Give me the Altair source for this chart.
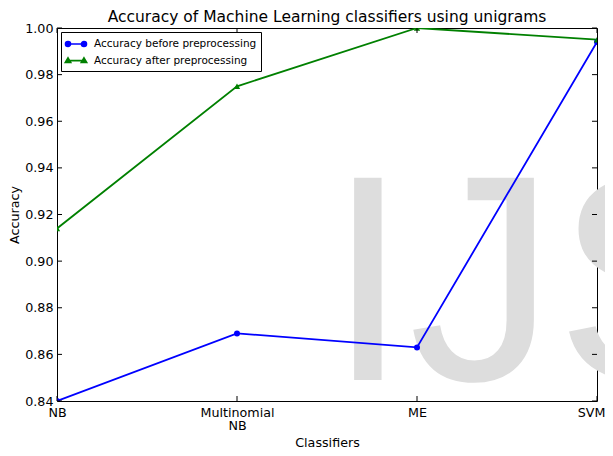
import altair as alt
import pandas as pd

classifiers = ["NB", "Multinomial NB", "ME", "SVM"]
acc_before = [0.840, 0.869, 0.863, 0.994]
acc_after = [0.914, 0.975, 1.000, 0.995]
series_names = ["Accuracy before preprocessing", "Accuracy after preprocessing"]
series_colors = ["#0000FF", "#008000"]
y_ticks = [0.84, 0.86, 0.88, 0.90, 0.92, 0.94, 0.96, 0.98, 1.00]
watermark = ["IJS"]

W, H = 540, 373
FONT = "DejaVu Sans"

rows = []
for c, b, a in zip(classifiers, acc_before, acc_after):
    rows.append({"classifier": c, "series": series_names[0], "acc": b})
    rows.append({"classifier": c, "series": series_names[1], "acc": a})
df = pd.DataFrame(rows)
df_b = df[df.series == series_names[0]]
df_a = df[df.series == series_names[1]]

xscale = alt.Scale(type="point", domain=classifiers, padding=0)
yscale = alt.Scale(domain=[0.84, 1.0], nice=False, zero=False)

X = alt.X("classifier:N", scale=xscale, sort=classifiers,
          axis=alt.Axis(title="Classifiers", labelAngle=0, tickSize=0, domain=False,
                        labelPadding=5, labelLineHeight=13.4, titlePadding=4,
                        labelExpr="split(datum.value, ' ')",
                        labelOffset={"condition": {"test": "datum.value == 'SVM'", "value": -6}, "value": 0}))
Y = alt.Y("acc:Q", scale=yscale,
          axis=alt.Axis(title="Accuracy", values=y_ticks, format=".2f", tickSize=0,
                        domain=False, grid=False, labelPadding=4, titlePadding=3))

wm = alt.Chart(pd.DataFrame({"t": watermark})).mark_text(
    font="Liberation Sans", fontSize=294, color="#dddddd", align="left", baseline="alphabetic"
).encode(text="t:N", x=alt.value(270), y=alt.value(352))

def line(d, col):
    return alt.Chart(d).mark_line(color=col, strokeWidth=1.8, clip=True).encode(x=X, y=Y)

pts_b = alt.Chart(df_b).mark_point(shape="circle", filled=True, color=series_colors[0],
                                   size=36, opacity=1, clip=True).encode(x=X, y=Y)
pts_a = alt.Chart(df_a).mark_point(shape="triangle-up", filled=True, color=series_colors[1],
                                   size=40, opacity=1, clip=True).encode(x=X, y=Y)

# legend symbols: line with two markers, 20px wide drawn on a 14px symbol box
circ_path = ("M-1.43,0L1.43,0"
             "M-1.5,0A0.36,0.36,0,1,0,-0.78,0A0.36,0.36,0,1,0,-1.5,0Z"
             "M0.78,0A0.36,0.36,0,1,0,1.5,0A0.36,0.36,0,1,0,0.78,0Z")
tri_path = ("M-1.43,0L1.43,0"
            "M-1.14,-0.4L-0.75,0.28L-1.53,0.28Z"
            "M1.14,-0.4L1.53,0.28L0.75,0.28Z")

leg = alt.Legend(title=None, orient="top-left", offset=4, padding=4,
                 fillColor="white", strokeColor="black", cornerRadius=0,
                 labelFont=FONT, labelFontSize=10.5, labelColor="black", labelLimit=400,
                 symbolSize=196, symbolStrokeWidth=1.6, symbolOpacity=1, symbolOffset=3,
                 rowPadding=2.6, labelOffset=10)
legend_layer = alt.Chart(df).mark_point(filled=True, clip=True, opacity=1).encode(
    x=alt.value(-200), y=alt.value(-200),
    color=alt.Color("series:N", scale=alt.Scale(domain=series_names, range=series_colors), legend=leg, sort=series_names),
    stroke=alt.Stroke("series:N", scale=alt.Scale(domain=series_names, range=series_colors), legend=leg, sort=series_names),
    shape=alt.Shape("series:N", scale=alt.Scale(domain=series_names, range=[circ_path, tri_path]), legend=leg, sort=series_names),
)

tickdf = pd.DataFrame({"acc": y_ticks})
catdf = pd.DataFrame({"classifier": classifiers})
TL = 5
ytick_l = alt.Chart(tickdf).mark_rule(color="black", strokeWidth=1).encode(y=alt.Y("acc:Q", scale=yscale), x=alt.value(0), x2=alt.value(TL))
ytick_r = alt.Chart(tickdf).mark_rule(color="black", strokeWidth=1).encode(y=alt.Y("acc:Q", scale=yscale), x=alt.value(W - TL), x2=alt.value(W))
xtick_b = alt.Chart(catdf).mark_rule(color="black", strokeWidth=1).encode(x=alt.X("classifier:N", scale=xscale, sort=classifiers), y=alt.value(H - TL), y2=alt.value(H))
xtick_t = alt.Chart(catdf).mark_rule(color="black", strokeWidth=1).encode(x=alt.X("classifier:N", scale=xscale, sort=classifiers), y=alt.value(0), y2=alt.value(TL))

chart = alt.layer(
    wm, line(df_b, series_colors[0]), line(df_a, series_colors[1]), pts_b, pts_a,
    ytick_l, ytick_r, xtick_b, xtick_t, legend_layer
).properties(
    width=W, height=H,
    title=alt.TitleParams("Accuracy of Machine Learning classifiers using unigrams",
                          font=FONT, fontSize=15.5, fontWeight="normal", color="black",
                          offset=5, dy=8),
    autosize=alt.AutoSizeParams(type="none"),
    padding={"left": 49, "top": 20, "right": 8, "bottom": 55},
).configure_view(
    stroke="black", strokeWidth=1
).configure_axis(
    labelFont=FONT, labelFontSize=12.7, labelColor="black",
    titleFont=FONT, titleFontSize=12.7, titleFontWeight="normal", titleColor="black"
)

chart.save("out.html", embed_options={"renderer": "svg", "actions": False})
